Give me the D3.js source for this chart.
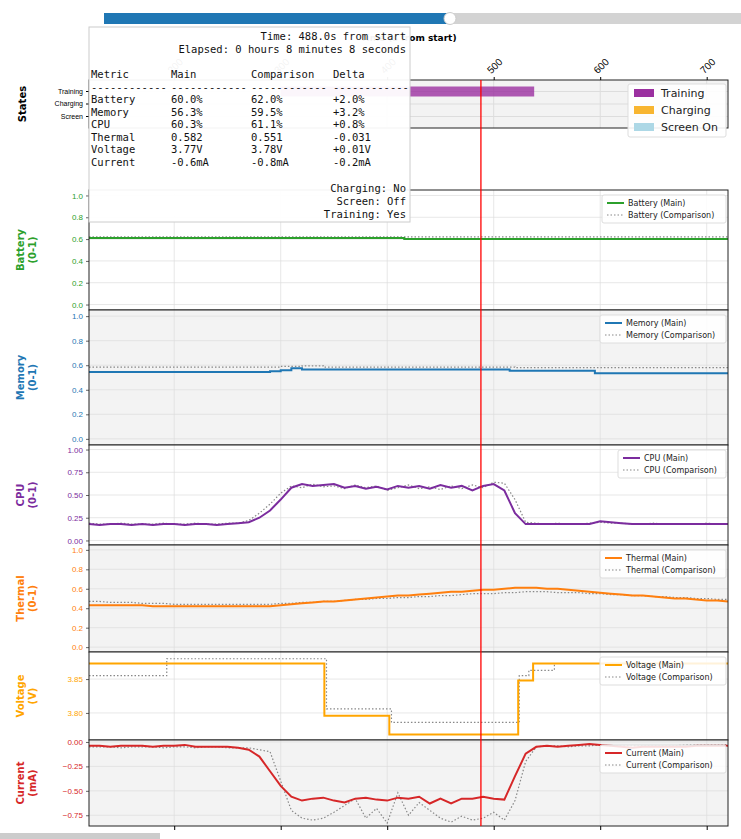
<!DOCTYPE html>
<html><head><meta charset="utf-8">
<script src="https://cdn.jsdelivr.net/npm/d3@7"></script>
<style>body{margin:0;background:#fff}svg{font-family:"DejaVu Sans",sans-serif}</style>
</head><body><svg id="chart" width="741" height="839"></svg>
<script>
// sample times (s from start)
const times = d3.range(120, 721, 10);

const cpuMain = [.18,.17,.18,.18,.17,.18,.17,.18,.18,.17,.18,.18,.17,.18,.19,
  .20,.25,.33,.45,.58,.62,.60,.61,.62,.58,.60,.57,.59,.56,.60,.58,.60,.57,.61,.58,.60,.55,.60,.62,.55,.30,
  .18,.18,.18,.18,.18,.18,.18,.21,.20,.19,.18,.18,.18,.18,.18,.18,.18,.18,.18,.18];
const cpuComp = [.19,.18,.18,.19,.18,.18,.18,.19,.18,.18,.19,.18,.18,.19,.19,
  .22,.30,.40,.52,.60,.58,.62,.59,.60,.57,.61,.58,.60,.55,.58,.61,.57,.59,.56,.60,.57,.61,.58,.64,.63,.45,
  .20,.19,.18,.19,.18,.18,.19,.20,.19,.19,.18,.18,.19,.18,.18,.18,.18,.19,.18,.18];

const thermalMain = [.43,.43,.43,.43,.43,.43,.42,.42,.42,.42,.42,.42,.42,.42,.42,.42,.42,.42,
  .43,.44,.45,.46,.47,.47,.48,.49,.50,.51,.52,.53,.53,.54,.55,.56,.57,.57,.58,.59,.59,.60,.61,
  .61,.61,.60,.60,.59,.58,.57,.56,.55,.54,.53,.53,.52,.51,.50,.50,.49,.48,.48,.47];
const thermalComp = [.47,.47,.46,.46,.46,.45,.45,.45,.44,.44,.44,.44,.44,.44,.44,.44,.44,.44,
  .45,.45,.46,.46,.47,.47,.48,.49,.49,.50,.50,.51,.51,.52,.52,.53,.53,.54,.55,.55,.55,.56,.56,
  .57,.57,.57,.56,.56,.56,.55,.55,.54,.54,.53,.53,.52,.52,.51,.51,.50,.50,.49,.49];

const currentMain = [-.04,-.04,-.05,-.04,-.04,-.04,-.05,-.04,-.04,-.03,-.05,-.05,-.05,-.05,-.06,
  -.08,-.15,-.30,-.45,-.56,-.60,-.58,-.57,-.60,-.62,-.58,-.57,-.59,-.60,-.57,-.58,-.56,-.63,-.58,-.63,-.58,-.58,-.56,-.58,-.59,-.35,
  -.12,-.05,-.04,-.05,-.04,-.03,-.02,-.03,-.04,-.05,-.06,-.05,-.05,-.05,-.05,-.05,-.04,-.04,-.04,-.04];
const currentComp = [-.05,-.05,-.05,-.06,-.05,-.05,-.05,-.06,-.05,-.05,-.06,-.05,-.05,-.06,-.06,
  -.06,-.08,-.10,-.40,-.70,-.78,-.80,-.78,-.72,-.65,-.58,-.78,-.68,-.83,-.52,-.75,-.62,-.70,-.78,-.82,-.76,-.80,-.78,-.72,-.80,-.60,
  -.20,-.05,-.04,-.04,-.05,-.04,-.04,-.03,-.04,-.04,-.04,-.04,-.04,-.04,-.04,-.03,-.03,-.03,-.03,-.03];

// step series: [time, value]
const batteryMain = [[120,.61],[416,.60],[720,.60]];
const batteryComp = [[120,.62],[720,.62]];
const memoryMain = [[120,.545],[290,.55],[300,.56],[310,.575],[320,.565],[515,.555],[595,.535],[720,.535]];
const memoryComp = [[120,.585],[300,.59],[320,.595],[340,.585],[520,.58],[720,.58]];
const voltageMain = [[120,3.873],[341,3.796],[402,3.768],[523,3.848],[537,3.873],[720,3.873]];
const voltageComp = [[120,3.855],[193,3.880],[343,3.806],[404,3.786],[524,3.855],[533,3.863],[557,3.873],[720,3.873]];

const stateNames = ["Training","Charging","Screen"];
const trainingSpans = [[300,538]];
const xTicks = [200,300,400,500,600,700];
const cursorTime = 488;

const tipRows = [["Battery","60.0%","62.0%","+2.0%"],["Memory","56.3%","59.5%","+3.2%"],["CPU","60.3%","61.1%","+0.8%"],
  ["Thermal","0.582","0.551","-0.031"],["Voltage","3.77V","3.78V","+0.01V"],["Current","-0.6mA","-0.8mA","-0.2mA"]];

const svg = d3.select("#chart");
const L = 89, R = 728;
const x = d3.scaleLinear().domain([120,720]).range([L,R]);

// progress slider
svg.append("rect").attr("x",104).attr("y",13).attr("width",637).attr("height",11).attr("fill","#d3d3d3");
svg.append("rect").attr("x",104).attr("y",13).attr("width",346).attr("height",11).attr("fill","#1f77b4");
svg.append("circle").attr("cx",450).attr("cy",18.5).attr("r",6).attr("fill","#fff").attr("stroke","#ccc");

const panels = [
  {key:"battery", top:190, bot:310, dom:[-0.05,1.05], ticks:[0,.2,.4,.6,.8,1], fmt:".1f", color:"#2ca02c", bg:"#fff", label:["Battery","(0-1)"], main:batteryMain, comp:batteryComp, step:true, name:"Battery", lw:124},
  {key:"memory", top:310, bot:445, dom:[-0.05,1.05], ticks:[0,.2,.4,.6,.8,1], fmt:".1f", color:"#1f77b4", bg:"#f3f3f3", label:["Memory","(0-1)"], main:memoryMain, comp:memoryComp, step:true, name:"Memory", lw:126},
  {key:"cpu", top:445, bot:545, dom:[-0.05,1.05], ticks:[0,.25,.5,.75,1], fmt:".2f", color:"#7b2c9e", bg:"#fff", label:["CPU","(0-1)"], main:cpuMain, comp:cpuComp, name:"CPU", lw:108},
  {key:"thermal", top:545, bot:652, dom:[-0.05,1.05], ticks:[0,.2,.4,.6,.8,1], fmt:".1f", color:"#ff7f0e", bg:"#f3f3f3", label:["Thermal","(0-1)"], main:thermalMain, comp:thermalComp, name:"Thermal", lw:126},
  {key:"voltage", top:652, bot:740, dom:[3.76,3.89], ticks:[3.80,3.85], fmt:".2f", color:"#ffa500", bg:"#fff", label:["Voltage","(V)"], main:voltageMain, comp:voltageComp, step:true, name:"Voltage", lw:126},
  {key:"current", top:740, bot:826, dom:[-0.86,0.02], ticks:[0,-.25,-.5,-.75], fmt:".2f", color:"#d62728", bg:"#f3f3f3", label:["Current","(mA)"], main:currentMain, comp:currentComp, name:"Current", lw:126}
];

panels.forEach(p => {
  const y = d3.scaleLinear().domain(p.dom).range([p.bot,p.top]);
  const g = svg.append("g");
  g.append("rect").attr("x",L).attr("y",p.top).attr("width",R-L).attr("height",p.bot-p.top).attr("fill",p.bg);
  // grid
  g.selectAll(".hg").data(p.ticks).join("line").attr("x1",L).attr("x2",R)
    .attr("y1",d=>y(d)).attr("y2",d=>y(d)).attr("stroke","#ddd").attr("stroke-width",0.7);
  g.selectAll(".vg").data(xTicks).join("line").attr("y1",p.top).attr("y2",p.bot)
    .attr("x1",d=>x(d)).attr("x2",d=>x(d)).attr("stroke","#ddd").attr("stroke-width",0.7);
  const ax = g.append("g").attr("transform",`translate(${L},0)`)
    .call(d3.axisLeft(y).tickValues(p.ticks).tickFormat(d3.format(p.fmt)).tickSize(3));
  ax.select(".domain").remove();
  ax.selectAll("text").attr("fill",p.color).attr("font-size",8);
  ax.selectAll("line").attr("stroke","#666");
  const line = d3.line().x(d=>x(d[0])).y(d=>y(d[1]));
  if (p.step) line.curve(d3.curveStepAfter);
  const mainData = p.step ? p.main : times.map((t,i)=>[t,p.main[i]]);
  const compData = p.step ? p.comp : times.map((t,i)=>[t,p.comp[i]]);
  g.append("path").datum(compData).attr("d",line).attr("fill","none").attr("stroke","#888").attr("stroke-width",1.2).attr("stroke-dasharray","1.5,2");
  g.append("path").datum(mainData).attr("d",line).attr("fill","none").attr("stroke",p.color).attr("stroke-width",2);
  g.append("rect").attr("x",L).attr("y",p.top).attr("width",R-L).attr("height",p.bot-p.top).attr("fill","none").attr("stroke","#222").attr("stroke-width",1);
  // y label
  const cy = (p.top+p.bot)/2;
  const t = g.append("text").attr("transform",`translate(26,${cy}) rotate(-90)`).attr("text-anchor","middle")
    .attr("fill",p.color).attr("font-weight","bold").attr("font-size",10);
  t.append("tspan").attr("x",0).attr("dy",-2).text(p.label[0]);
  t.append("tspan").attr("x",0).attr("dy",12).text(p.label[1]);
  // legend
  const lx = R-2-p.lw, ly = p.top+5;
  const lg = g.append("g");
  lg.append("rect").attr("x",lx).attr("y",ly).attr("width",p.lw).attr("height",28).attr("rx",2)
    .attr("fill","#fff").attr("fill-opacity",0.85).attr("stroke","#ddd");
  lg.append("line").attr("x1",lx+5).attr("x2",lx+22).attr("y1",ly+8).attr("y2",ly+8).attr("stroke",p.color).attr("stroke-width",2);
  lg.append("line").attr("x1",lx+5).attr("x2",lx+22).attr("y1",ly+20).attr("y2",ly+20).attr("stroke","#888").attr("stroke-width",1.2).attr("stroke-dasharray","1.5,2");
  lg.append("text").attr("x",lx+26).attr("y",ly+11).attr("font-size",8).attr("fill","#222").text(`${p.name} (Main)`);
  lg.append("text").attr("x",lx+26).attr("y",ly+23).attr("font-size",8).attr("fill","#222").text(`${p.name} (Comparison)`);
});

// bottom ticks
const bx = svg.append("g").attr("transform","translate(0,826)").call(d3.axisBottom(x).tickValues(xTicks).tickSize(4).tickFormat(""));
bx.select(".domain").remove();
svg.append("rect").attr("x",0).attr("y",833).attr("width",160).attr("height",6).attr("fill","#ccc");

// states panel
const sTop = 80, sBot = 128;
const ys = d3.scaleBand().domain(stateNames).range([sTop+4,sBot-4]).padding(0.2);
svg.append("rect").attr("x",L).attr("y",sTop).attr("width",R-L).attr("height",sBot-sTop).attr("fill","#f3f3f3");
svg.selectAll(".sg").data(xTicks).join("line").attr("y1",sTop).attr("y2",sBot)
  .attr("x1",d=>x(d)).attr("x2",d=>x(d)).attr("stroke","#ddd");
svg.selectAll(".sh").data(stateNames).join("line").attr("x1",L).attr("x2",R)
  .attr("y1",d=>ys(d)+ys.bandwidth()/2).attr("y2",d=>ys(d)+ys.bandwidth()/2).attr("stroke","#ddd");
svg.selectAll(".tb").data(trainingSpans).join("rect").attr("x",d=>x(d[0])).attr("width",d=>x(d[1])-x(d[0]))
  .attr("y",ys("Training")).attr("height",ys.bandwidth()).attr("fill","#9b30a0").attr("opacity",0.8);
svg.append("rect").attr("x",L).attr("y",sTop).attr("width",R-L).attr("height",sBot-sTop).attr("fill","none").attr("stroke","#222");
const sa = svg.append("g").attr("transform",`translate(${L},0)`).call(d3.axisLeft(ys).tickSize(3));
sa.select(".domain").remove();
sa.selectAll("text").attr("font-size",7);
svg.append("text").attr("transform","translate(26,104) rotate(-90)").attr("text-anchor","middle").attr("font-weight","bold").attr("font-size",10).text("States");
const ta = svg.append("g").attr("transform",`translate(0,${sTop})`).call(d3.axisTop(x).tickValues(xTicks).tickSize(3));
ta.select(".domain").remove();
ta.selectAll("text").attr("font-size",10).attr("text-anchor","start").attr("transform","rotate(-45)").attr("dx","2").attr("dy","0");
svg.append("text").attr("x",(L+R)/2).attr("y",41).attr("text-anchor","middle").attr("font-weight","bold").attr("font-size",9).text("Time (s from start)");
// states legend
const sl = svg.append("g").attr("transform","translate(628,84)");
sl.append("rect").attr("width",98).attr("height",53).attr("fill","#fff").attr("fill-opacity",0.9).attr("stroke","#ddd").attr("rx",2);
[["Training","#9b30a0"],["Charging","#f8b631"],["Screen On","#add8e6"]].forEach((d,i)=>{
  sl.append("rect").attr("x",6).attr("y",5+i*17).attr("width",20).attr("height",8).attr("fill",d[1]);
  sl.append("text").attr("x",33).attr("y",13+i*17).attr("font-size",11).attr("fill","#222").text(d[0]);
});

// cursor line
svg.append("line").attr("x1",x(cursorTime)).attr("x2",x(cursorTime)).attr("y1",sTop).attr("y2",826).attr("stroke","red").attr("stroke-width",1.3);

// tooltip
const tip = svg.append("g").attr("font-family","DejaVu Sans Mono, monospace").attr("font-size",10.5).attr("fill","#111");
tip.append("rect").attr("x",89).attr("y",27).attr("width",321).attr("height",195).attr("fill","#fff").attr("fill-opacity",0.95).attr("stroke","#ccc");
tip.append("text").attr("x",406).attr("y",40).attr("text-anchor","end").text(`Time: ${cursorTime.toFixed(1)}s from start`);
tip.append("text").attr("x",406).attr("y",53).attr("text-anchor","end").text("Elapsed: 0 hours 8 minutes 8 seconds");
const cols = [91,171,251,333];
["Metric","Main","Comparison","Delta"].forEach((h,i)=>tip.append("text").attr("x",cols[i]).attr("y",78).text(h));
cols.forEach(c=>tip.append("text").attr("x",c).attr("y",91).text("------------"));
tipRows.forEach((r,j)=>r.forEach((v,i)=>tip.append("text").attr("x",cols[i]).attr("y",103+j*12.5).text(v)));
["Charging: No","Screen: Off","Training: Yes"].forEach((s,i)=>tip.append("text").attr("x",406).attr("y",192+i*13).attr("text-anchor","end").text(s));
</script></body></html>
